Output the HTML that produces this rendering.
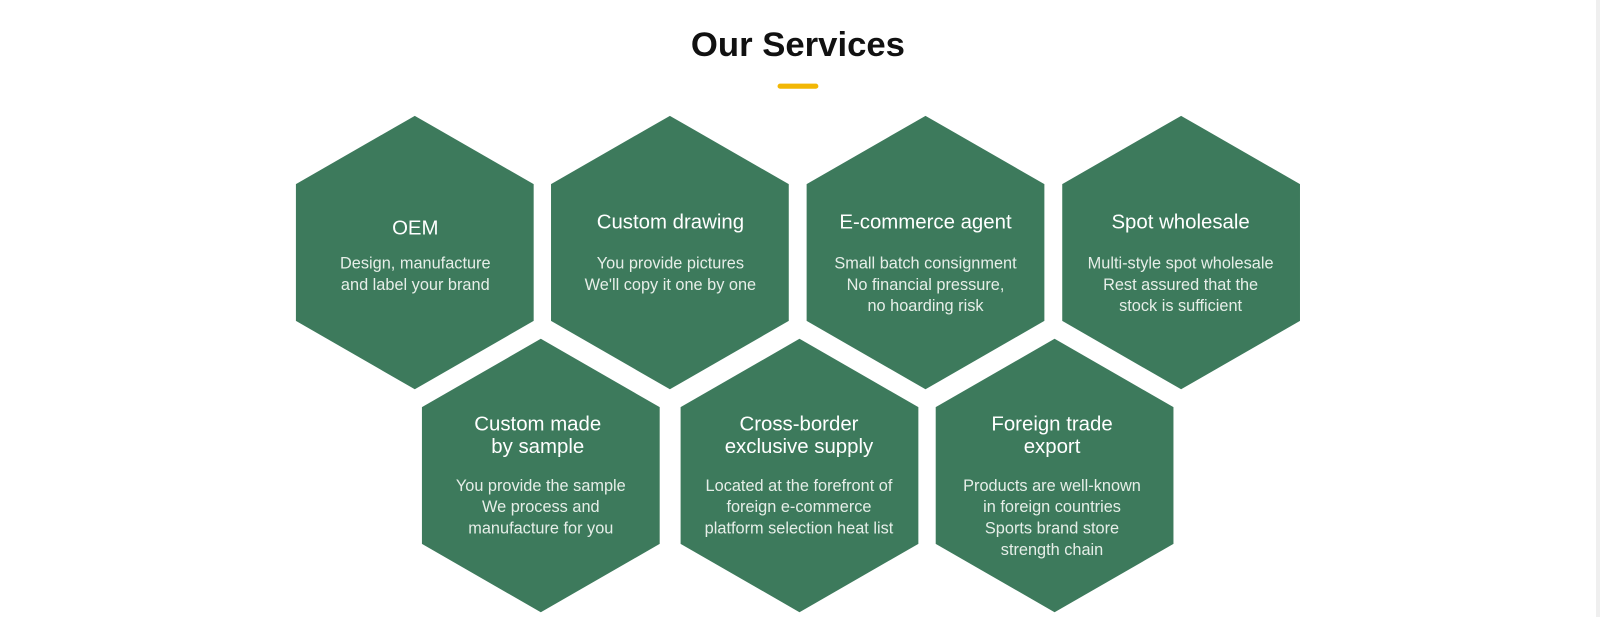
<!DOCTYPE html>
<html><head><style>
html,body{margin:0;padding:0;background:#fff;width:1600px;height:617px;overflow:hidden;font-family:"Liberation Sans",sans-serif;}
</style></head><body>
<svg width="1600" height="617" xmlns="http://www.w3.org/2000/svg" style="position:absolute;left:0;top:0">
<rect x="1596" y="0" width="4" height="617" fill="#efefef"/>
<defs><polygon id="h" points="0,-134 116.5,-67 116.5,67 0,134 -116.5,67 -116.5,-67" fill="#3d7a5c"/></defs>
<g transform="scale(1.0204)">
<text x="782" y="55" text-anchor="middle" font-family="Liberation Sans, sans-serif" font-weight="bold" font-size="34" fill="#111">Our Services</text>
<rect x="762" y="82" width="40" height="5" rx="2.5" fill="#f2b705"/>
<g font-family="Liberation Sans, sans-serif" text-anchor="middle" fill="#fff">
<use href="#h" x="406.5" y="247.5"/>
<use href="#h" x="656.5" y="247.5"/>
<use href="#h" x="907" y="247.5"/>
<use href="#h" x="1157.5" y="247.5"/>
<use href="#h" x="530" y="466"/>
<use href="#h" x="783.5" y="466"/>
<use href="#h" x="1033.5" y="466"/>
<g font-size="20">
<text x="407" y="230">OEM</text>
<text x="657" y="224">Custom drawing</text>
<text x="907" y="224">E-commerce agent</text>
<text x="1157" y="224">Spot wholesale</text>
<text x="527" y="422">Custom made</text><text x="527" y="444">by sample</text>
<text x="783" y="422">Cross-border</text><text x="783" y="444">exclusive supply</text>
<text x="1031" y="422">Foreign trade</text><text x="1031" y="444">export</text>
</g>
<g font-size="16" fill="#e6eee8">
<text x="407" y="263">Design, manufacture</text><text x="407" y="284">and label your brand</text>
<text x="657" y="263">You provide pictures</text><text x="657" y="284">We'll copy it one by one</text>
<text x="907" y="263">Small batch consignment</text><text x="907" y="284">No financial pressure,</text><text x="907" y="305">no hoarding risk</text>
<text x="1157" y="263">Multi-style spot wholesale</text><text x="1157" y="284">Rest assured that the</text><text x="1157" y="305">stock is sufficient</text>
<text x="530" y="481">You provide the sample</text><text x="530" y="502">We process and</text><text x="530" y="523">manufacture for you</text>
<text x="783" y="481">Located at the forefront of</text><text x="783" y="502">foreign e-commerce</text><text x="783" y="523">platform selection heat list</text>
<text x="1031" y="481">Products are well-known</text><text x="1031" y="502">in foreign countries</text><text x="1031" y="523">Sports brand store</text><text x="1031" y="544">strength chain</text>
</g>
</g>
</g>
</svg>
</body></html>
